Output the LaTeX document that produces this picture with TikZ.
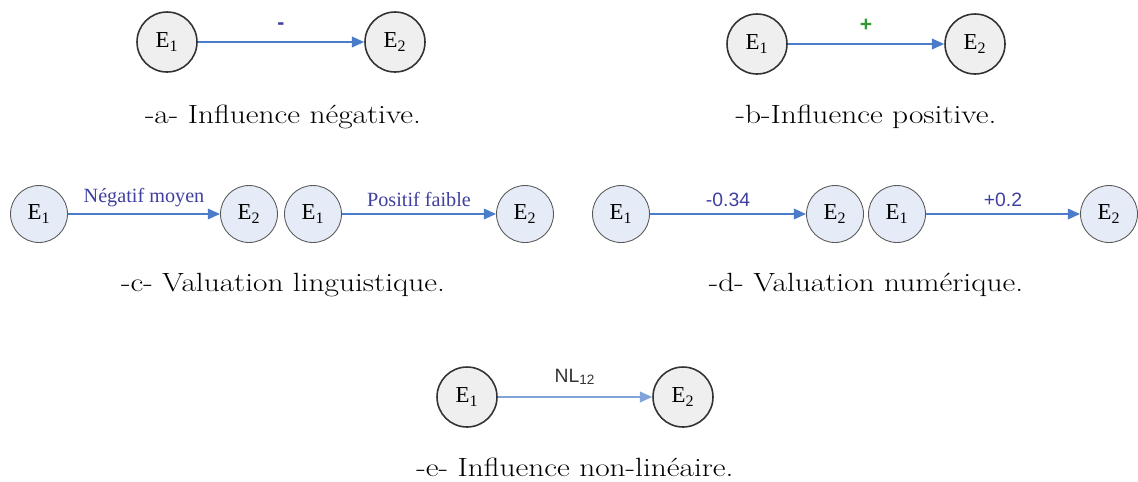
\documentclass[tikz,border=0pt]{standalone}
\usepackage{fontspec}
\usepackage{xcolor}
\usepackage{tikz}
\usetikzlibrary{arrows.meta}
\newfontfamily\timesfont{Liberation Serif}
\newfontfamily\arialfont{Liberation Sans}
\definecolor{arrowblue}{HTML}{4A7CC9}
\definecolor{labelblue}{HTML}{3F3FA0}
\definecolor{labelgreen}{HTML}{2E9B2E}
\definecolor{greyfill}{HTML}{EFEFEF}
\definecolor{bluefill}{HTML}{E6ECF7}
\begin{document}
\begin{tikzpicture}[x=0.02cm,y=-0.02cm,
    greynode/.style={circle,draw=black!80,line width=0.9pt,fill=greyfill,minimum size=1.2cm,inner sep=0pt,font=\timesfont\fontsize{13}{13}\selectfont},
    bluenode/.style={circle,draw=black!65,line width=0.5pt,fill=bluefill,minimum size=1.14cm,inner sep=0pt,font=\timesfont\fontsize{13}{13}\selectfont},
    influence/.style={-{Triangle[length=7pt,width=6pt]},arrowblue,line width=1.1pt},
    caption/.style={font=\fontsize{15}{17}\selectfont,xscale=1.19,transform shape}]
    \useasboundingbox (0,0) rectangle (1138,481);
    % -a-
    \node[greynode] (a1) at (167,42) {E\textsubscript{1}};
    \node[greynode] (a2) at (395,42) {E\textsubscript{2}};
    \draw[influence] (a1) -- node[above=3pt,labelblue,font=\arialfont\bfseries\large] {-} (a2);
    \node[caption] (ca) at (283,117) {-a- Influence négative.};
    % -b-
    \node[greynode] (b1) at (757,44) {E\textsubscript{1}};
    \node[greynode] (b2) at (975,44) {E\textsubscript{2}};
    \draw[influence] (b1) -- node[above=3pt,labelgreen,font=\arialfont\bfseries\large] {+} (b2);
    \node[caption] (cb) at (866,117) {-b-Influence positive.};
    % -c-
    \node[bluenode] (c1) at (39,214) {E\textsubscript{1}};
    \node[bluenode] (c2) at (249,214) {E\textsubscript{2}};
    \node[bluenode] (c3) at (313,214) {E\textsubscript{1}};
    \node[bluenode] (c4) at (525,214) {E\textsubscript{2}};
    \draw[influence] (c1) -- node[above=0pt,labelblue,font=\timesfont\fontsize{11.5}{12}\selectfont] {Négatif moyen} (c2);
    \draw[influence] (c3) -- node[above=0pt,labelblue,font=\timesfont\fontsize{11.5}{12}\selectfont] {Positif faible} (c4);
    \node[caption] (cc) at (283,285) {-c- Valuation linguistique.};
    % -d-
    \node[bluenode] (d1) at (621,214) {E\textsubscript{1}};
    \node[bluenode] (d2) at (835,214) {E\textsubscript{2}};
    \node[bluenode] (d3) at (897,214) {E\textsubscript{1}};
    \node[bluenode] (d4) at (1109,214) {E\textsubscript{2}};
    \draw[influence] (d1) -- node[above=0pt,labelblue,font=\arialfont\fontsize{11}{12}\selectfont] {-0.34} (d2);
    \draw[influence] (d3) -- node[above=0pt,labelblue,font=\arialfont\fontsize{11}{12}\selectfont] {+0.2} (d4);
    \node[caption] (cd) at (866,285) {-d- Valuation numérique.};
    % -e-
    \node[greynode] (e1) at (467,397) {E\textsubscript{1}};
    \node[greynode] (e2) at (683,397) {E\textsubscript{2}};
    \draw[influence,arrowblue!70] (e1) -- node[above=3pt,black!80,font=\arialfont\fontsize{11}{12}\selectfont] {NL\textsubscript{12}} (e2);
    \node[caption] (ce) at (575,467) {-e- Influence non-linéaire.};
\end{tikzpicture}
\end{document}
